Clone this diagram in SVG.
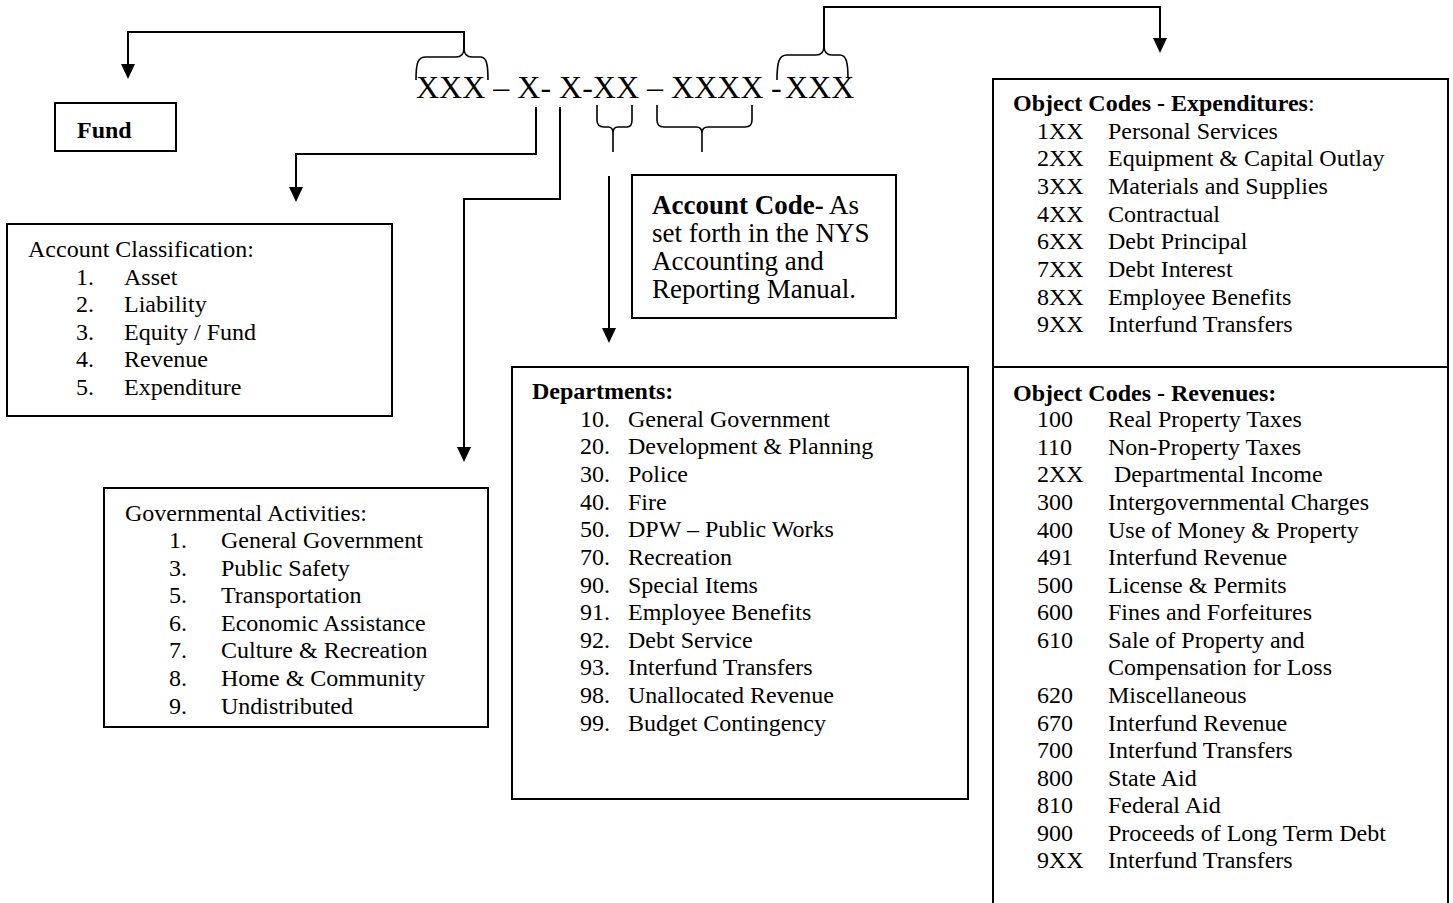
<svg xmlns="http://www.w3.org/2000/svg" width="1453" height="903" viewBox="0 0 1453 903">
<style>
text{font-family:"Liberation Serif","Times New Roman",serif;fill:#000;font-size:24px}
.b{font-weight:bold}
.box{fill:#fff;stroke:#000;stroke-width:2}
.conn{fill:none;stroke:#000;stroke-width:2}
.brace{fill:none;stroke:#000;stroke-width:1.6}
.code{font-size:32px}
.ac{font-size:27px}
</style>
<defs>
<marker id="arr" markerUnits="userSpaceOnUse" markerWidth="16" markerHeight="16" refX="12" refY="7" orient="auto">
<path d="M0,0 L15,7 L0,14 z" fill="#000"/>
</marker>
</defs>
<rect width="1453" height="903" fill="#fff"/>

<g id="code-line">
<text class="code" y="98"><tspan x="416">XXX – X- X-XX – XXXX</tspan><tspan x="771">-</tspan><tspan x="785">XXX</tspan></text>
<path class="brace" d="M416,80 C416,62 418,57 426,57 H456 C462,57 464,54 464,48 C464,54 466,57 472,57 H480 C486,57 488,62 488,80"/>
<path class="brace" d="M777,80 C777,62 779,55 787,55 H816 C822,55 824,52 824,46 C824,52 826,55 832,55 H840 C846,55 848,62 848,78"/>
<path class="brace" d="M597,105 V120 C597,125 599,127 604,127 H608 C611,127 613,129 613,133 V152 M613,133 C613,129 615,127 618,127 H627 C630,127 632,125 632,120 V105"/>
<path class="brace" d="M657,105 V120 C657,125 659,127 664,127 H696 C700,127 702,129 702,133 V152 M702,133 C702,129 704,127 708,127 H745 C750,127 752,125 752,120 V105"/>
</g>

<g id="connectors">
<path class="conn" d="M464,49 V32 H128 V76" marker-end="url(#arr)"/>
<path class="conn" d="M824,47 V7 H1160 V50" marker-end="url(#arr)"/>
<path class="conn" d="M536,107 V154 H296 V199" marker-end="url(#arr)"/>
<path class="conn" d="M560,107 V199 H464 V459" marker-end="url(#arr)"/>
<path class="conn" d="M609,176 V340" marker-end="url(#arr)"/>
</g>

<g id="fund">
<rect class="box" x="55" y="103" width="121" height="48"/>
<text class="b" x="77" y="138">Fund</text>
</g>

<g id="account-classification">
<rect class="box" x="7" y="224" width="385" height="192"/>
<text x="28" y="257">Account Classification:</text>
<text x="76" y="285">1.</text><text x="124" y="285">Asset</text>
<text x="76" y="312">2.</text><text x="124" y="312">Liability</text>
<text x="76" y="340">3.</text><text x="124" y="340">Equity / Fund</text>
<text x="76" y="367">4.</text><text x="124" y="367">Revenue</text>
<text x="76" y="395">5.</text><text x="124" y="395">Expenditure</text>
</g>

<g id="governmental-activities">
<rect class="box" x="104" y="488" width="384" height="239"/>
<text x="125" y="521">Governmental Activities:</text>
<text x="169" y="548">1.</text><text x="221" y="548">General Government</text>
<text x="169" y="576">3.</text><text x="221" y="576">Public Safety</text>
<text x="169" y="603">5.</text><text x="221" y="603">Transportation</text>
<text x="169" y="631">6.</text><text x="221" y="631">Economic Assistance</text>
<text x="169" y="658">7.</text><text x="221" y="658">Culture &amp; Recreation</text>
<text x="169" y="686">8.</text><text x="221" y="686">Home &amp; Community</text>
<text x="169" y="714">9.</text><text x="221" y="714">Undistributed</text>
</g>

<g id="account-code">
<rect class="box" x="632" y="175" width="264" height="143"/>
<text class="ac" x="652" y="214"><tspan class="b">Account Code-</tspan> As</text>
<text class="ac" x="652" y="242">set forth in the NYS</text>
<text class="ac" x="652" y="270">Accounting and</text>
<text class="ac" x="652" y="298">Reporting Manual.</text>
</g>

<g id="departments">
<rect class="box" x="512" y="367" width="456" height="432"/>
<text class="b" x="532" y="399">Departments:</text>
<text x="580" y="427">10.</text><text x="628" y="427">General Government</text>
<text x="580" y="454">20.</text><text x="628" y="454">Development &amp; Planning</text>
<text x="580" y="482">30.</text><text x="628" y="482">Police</text>
<text x="580" y="510">40.</text><text x="628" y="510">Fire</text>
<text x="580" y="537">50.</text><text x="628" y="537">DPW – Public Works</text>
<text x="580" y="565">70.</text><text x="628" y="565">Recreation</text>
<text x="580" y="593">90.</text><text x="628" y="593">Special Items</text>
<text x="580" y="620">91.</text><text x="628" y="620">Employee Benefits</text>
<text x="580" y="648">92.</text><text x="628" y="648">Debt Service</text>
<text x="580" y="675">93.</text><text x="628" y="675">Interfund Transfers</text>
<text x="580" y="703">98.</text><text x="628" y="703">Unallocated Revenue</text>
<text x="580" y="731">99.</text><text x="628" y="731">Budget Contingency</text>
</g>

<g id="object-expenditures">
<rect class="box" x="993" y="79" width="455" height="288"/>
<text x="1013" y="111"><tspan class="b">Object Codes - Expenditures</tspan>:</text>
<text x="1037" y="139">1XX</text><text x="1108" y="139">Personal Services</text>
<text x="1037" y="166">2XX</text><text x="1108" y="166">Equipment &amp; Capital Outlay</text>
<text x="1037" y="194">3XX</text><text x="1108" y="194">Materials and Supplies</text>
<text x="1037" y="222">4XX</text><text x="1108" y="222">Contractual</text>
<text x="1037" y="249">6XX</text><text x="1108" y="249">Debt Principal</text>
<text x="1037" y="277">7XX</text><text x="1108" y="277">Debt Interest</text>
<text x="1037" y="305">8XX</text><text x="1108" y="305">Employee Benefits</text>
<text x="1037" y="332">9XX</text><text x="1108" y="332">Interfund Transfers</text>
</g>

<g id="object-revenues">
<rect class="box" x="993" y="367" width="455" height="560"/>
<text class="b" x="1013" y="401">Object Codes - Revenues:</text>
<text x="1037" y="427">100</text><text x="1108" y="427">Real Property Taxes</text>
<text x="1037" y="455">110</text><text x="1108" y="455">Non-Property Taxes</text>
<text x="1037" y="482">2XX</text><text x="1114" y="482">Departmental Income</text>
<text x="1037" y="510">300</text><text x="1108" y="510">Intergovernmental Charges</text>
<text x="1037" y="538">400</text><text x="1108" y="538">Use of Money &amp; Property</text>
<text x="1037" y="565">491</text><text x="1108" y="565">Interfund Revenue</text>
<text x="1037" y="593">500</text><text x="1108" y="593">License &amp; Permits</text>
<text x="1037" y="620">600</text><text x="1108" y="620">Fines and Forfeitures</text>
<text x="1037" y="648">610</text><text x="1108" y="648">Sale of Property and</text>
<text x="1108" y="675">Compensation for Loss</text>
<text x="1037" y="703">620</text><text x="1108" y="703">Miscellaneous</text>
<text x="1037" y="731">670</text><text x="1108" y="731">Interfund Revenue</text>
<text x="1037" y="758">700</text><text x="1108" y="758">Interfund Transfers</text>
<text x="1037" y="786">800</text><text x="1108" y="786">State Aid</text>
<text x="1037" y="813">810</text><text x="1108" y="813">Federal Aid</text>
<text x="1037" y="841">900</text><text x="1108" y="841">Proceeds of Long Term Debt</text>
<text x="1037" y="868">9XX</text><text x="1108" y="868">Interfund Transfers</text>
</g>
</svg>
